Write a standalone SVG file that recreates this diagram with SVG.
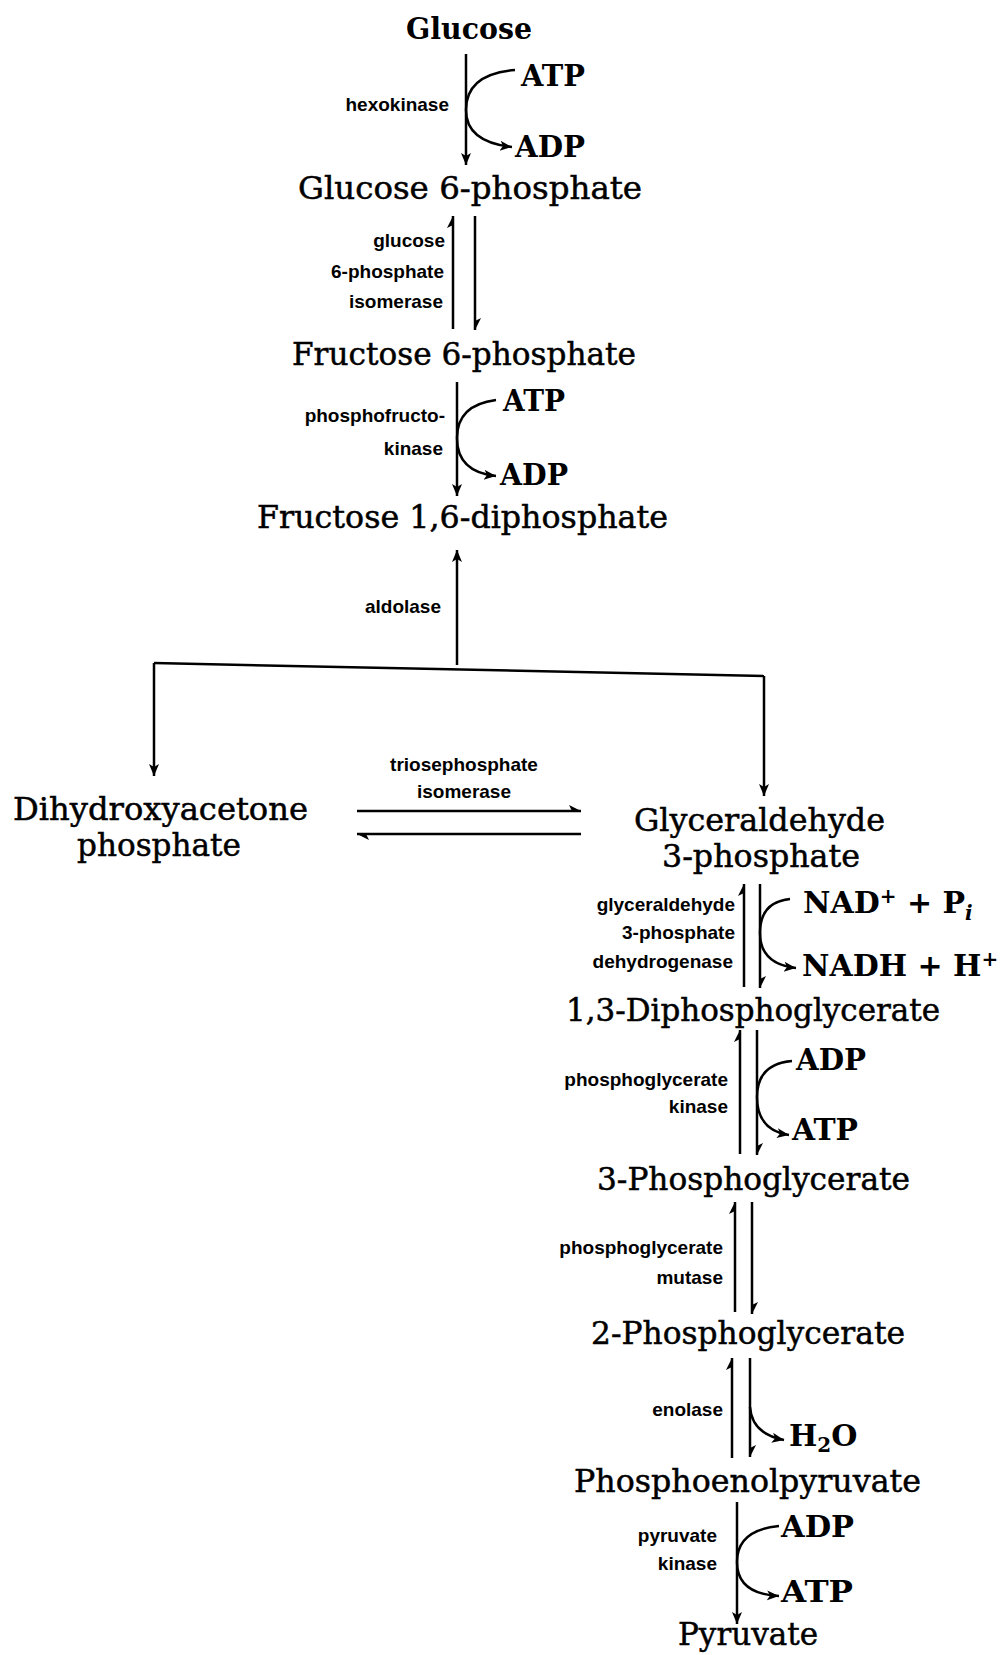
<svg xmlns="http://www.w3.org/2000/svg" width="1001" height="1655" viewBox="0 0 1001 1655">
<defs>
<style>
.m{font-family:"DejaVu Serif","Liberation Serif",serif;font-size:32px;fill:#000;stroke:#000;stroke-width:0.5;}
.c{font-family:"DejaVu Serif","Liberation Serif",serif;font-size:30px;font-weight:bold;fill:#000;}
.e{font-family:"Liberation Sans",Arial,sans-serif;font-weight:bold;font-size:19px;fill:#000;text-anchor:end;}
.em{font-family:"Liberation Sans",Arial,sans-serif;font-weight:bold;font-size:19px;fill:#000;text-anchor:middle;}
.ln{stroke:#000;stroke-width:2.5;fill:none;}
.a{marker-end:url(#ah);}
.h{marker-end:url(#hp);}
</style>
<marker id="ah" markerWidth="14" markerHeight="12" refX="12" refY="6" orient="auto" markerUnits="userSpaceOnUse"><path d="M0,1 L12,6 L0,11 L3,6 Z" fill="#000"/></marker>
<marker id="hp" markerWidth="14" markerHeight="10" refX="12" refY="8" orient="auto" markerUnits="userSpaceOnUse"><path d="M12,8 L0,2 L3,8 Z" fill="#000"/></marker>
</defs>
<rect width="1001" height="1655" fill="#fff"/>

<g id="connectors">
<line class="ln a" x1="466" y1="54" x2="466" y2="165"/>
<path class="ln a" d="M515,70 Q466,74 466,110 Q466,142 512,147"/>
<line class="ln h" x1="453" y1="329" x2="453" y2="216"/>
<line class="ln h" x1="475" y1="216" x2="475" y2="330"/>
<line class="ln a" x1="457" y1="382" x2="457" y2="496"/>
<path class="ln a" d="M496,400 Q457,405 457,438 Q457,472 496,476"/>
<line class="ln a" x1="457" y1="665" x2="457" y2="550"/>
<path class="ln" d="M154,663 L764,676"/>
<line class="ln a" x1="154" y1="663" x2="154" y2="776"/>
<line class="ln a" x1="764" y1="676" x2="764" y2="796"/>
<line class="ln h" x1="357" y1="811" x2="581" y2="811"/>
<line class="ln h" x1="581" y1="834" x2="357" y2="834"/>
<line class="ln h" x1="744" y1="987" x2="744" y2="884"/>
<line class="ln h" x1="760" y1="884" x2="760" y2="988"/>
<path class="ln a" d="M790,899 Q760,902 760,933 Q760,964 796,968"/>
<line class="ln h" x1="740" y1="1154" x2="740" y2="1030"/>
<line class="ln h" x1="757" y1="1030" x2="757" y2="1155"/>
<path class="ln a" d="M792,1061 Q757,1064 757,1097 Q757,1130 789,1135"/>
<line class="ln h" x1="735" y1="1312" x2="735" y2="1202"/>
<line class="ln h" x1="752" y1="1202" x2="752" y2="1314"/>
<line class="ln h" x1="732" y1="1458" x2="732" y2="1358"/>
<line class="ln h" x1="750" y1="1358" x2="750" y2="1457"/>
<path class="ln a" d="M750,1407 Q752,1434 784,1440"/>
<line class="ln a" x1="737" y1="1502" x2="737" y2="1624"/>
<path class="ln a" d="M779,1526 Q737,1530 737,1562 Q737,1594 779,1596"/>
</g>

<g id="enzyme-labels">
<text class="e" x="449" y="111">hexokinase</text>
<text class="e" x="445" y="247">glucose</text>
<text class="e" x="444" y="278">6-phosphate</text>
<text class="e" x="443" y="308">isomerase</text>
<text class="e" x="445" y="422">phosphofructo-</text>
<text class="e" x="443" y="455">kinase</text>
<text class="e" x="441" y="613">aldolase</text>
<text class="em" x="464" y="771">triosephosphate</text>
<text class="em" x="464" y="798">isomerase</text>
<text class="e" x="735" y="911">glyceraldehyde</text>
<text class="e" x="735" y="939">3-phosphate</text>
<text class="e" x="733" y="968">dehydrogenase</text>
<text class="e" x="728" y="1086">phosphoglycerate</text>
<text class="e" x="728" y="1113">kinase</text>
<text class="e" x="723" y="1254">phosphoglycerate</text>
<text class="e" x="723" y="1284">mutase</text>
<text class="e" x="723" y="1416">enolase</text>
<text class="e" x="717" y="1542">pyruvate</text>
<text class="e" x="717" y="1570">kinase</text>
</g>

<g id="glucose"><text class="c" x="406" y="39" font-size="32" textLength="126" lengthAdjust="spacingAndGlyphs">Glucose</text></g>
<g id="glucose-6-phosphate"><text class="m" x="298" y="199" textLength="344" lengthAdjust="spacingAndGlyphs">Glucose 6-phosphate</text></g>
<g id="fructose-6-phosphate"><text class="m" x="292" y="365" textLength="344" lengthAdjust="spacingAndGlyphs">Fructose 6-phosphate</text></g>
<g id="fructose-1-6-diphosphate"><text class="m" x="257" y="528" textLength="411" lengthAdjust="spacingAndGlyphs">Fructose 1,6-diphosphate</text></g>
<g id="dihydroxyacetone-phosphate">
<text class="m" x="13" y="820" textLength="295" lengthAdjust="spacingAndGlyphs">Dihydroxyacetone</text>
<text class="m" x="77" y="856" textLength="164" lengthAdjust="spacingAndGlyphs">phosphate</text>
</g>
<g id="glyceraldehyde-3-phosphate">
<text class="m" x="634" y="831" textLength="251" lengthAdjust="spacingAndGlyphs">Glyceraldehyde</text>
<text class="m" x="662" y="867" textLength="198" lengthAdjust="spacingAndGlyphs">3-phosphate</text>
</g>
<g id="diphosphoglycerate"><text class="m" x="566" y="1021" textLength="374" lengthAdjust="spacingAndGlyphs">1,3-Diphosphoglycerate</text></g>
<g id="phosphoglycerate-3"><text class="m" x="597" y="1190" textLength="313" lengthAdjust="spacingAndGlyphs">3-Phosphoglycerate</text></g>
<g id="phosphoglycerate-2"><text class="m" x="591" y="1344" textLength="314" lengthAdjust="spacingAndGlyphs">2-Phosphoglycerate</text></g>
<g id="phosphoenolpyruvate"><text class="m" x="574" y="1492" textLength="347" lengthAdjust="spacingAndGlyphs">Phosphoenolpyruvate</text></g>
<g id="pyruvate"><text class="m" x="678" y="1645" textLength="140" lengthAdjust="spacingAndGlyphs">Pyruvate</text></g>

<g id="cofactors">
<text class="c" x="521" y="86" textLength="64" lengthAdjust="spacingAndGlyphs">ATP</text>
<text class="c" x="515" y="157" textLength="70" lengthAdjust="spacingAndGlyphs">ADP</text>
<text class="c" x="503" y="411" textLength="62" lengthAdjust="spacingAndGlyphs">ATP</text>
<text class="c" x="500" y="485" textLength="68" lengthAdjust="spacingAndGlyphs">ADP</text>
<text class="c" x="803" y="913">NAD<tspan dy="-10" font-size="20">+</tspan><tspan dy="10"> + P</tspan><tspan dy="7" font-size="20" font-style="italic">i</tspan></text>
<text class="c" x="802" y="976">NADH + H<tspan dy="-10" font-size="20">+</tspan></text>
<text class="c" x="796" y="1070" textLength="70" lengthAdjust="spacingAndGlyphs">ADP</text>
<text class="c" x="792" y="1140" textLength="66" lengthAdjust="spacingAndGlyphs">ATP</text>
<text class="c" x="789" y="1446">H<tspan dy="6" font-size="20">2</tspan><tspan dy="-6">O</tspan></text>
<text class="c" x="781" y="1537" textLength="73" lengthAdjust="spacingAndGlyphs">ADP</text>
<text class="c" x="781" y="1602" textLength="72" lengthAdjust="spacingAndGlyphs">ATP</text>
</g>
</svg>
